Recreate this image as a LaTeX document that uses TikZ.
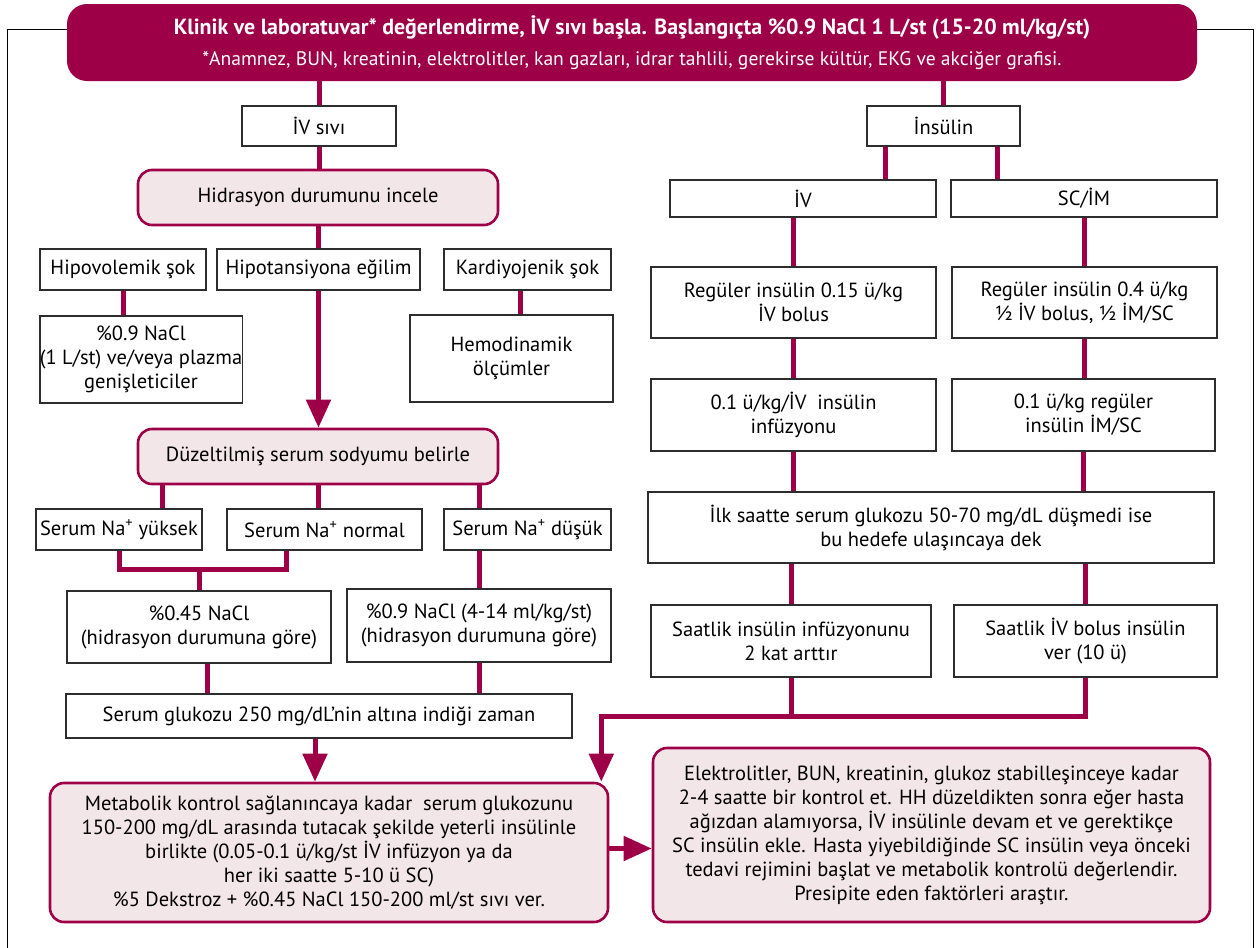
\documentclass[tikz,border=0pt]{standalone}
\usepackage{fontspec}
\setmainfont{PT Sans}
\definecolor{dkaplum}{RGB}{158,0,72}
\definecolor{dkarose}{RGB}{243,230,233}
\definecolor{boxline}{RGB}{45,45,45}
\usetikzlibrary{arrows.meta,positioning}

\begin{document}
\begin{tikzpicture}[x=1pt, y=-1pt,
    every node/.style={font=\fontsize{20.5}{24}\selectfont, align=center, inner sep=2pt},
    headbox/.style={fill=dkaplum, rounded corners=20pt, text=white,
                    font=\fontsize{19.6}{31}\selectfont},
    plainbox/.style={draw=boxline, line width=1.4pt, fill=white},
    rosebox/.style={draw=dkaplum, line width=2.6pt, fill=dkarose, rounded corners=14pt},
    link/.style={draw=dkaplum, line width=5pt},
    linkarrow/.style={link, -{Triangle[length=28pt, width=24pt]}},
    frameline/.style={draw=black, line width=1pt}]
    \useasboundingbox (0,0) rectangle (1259,948);

    % open frame behind the title bar
    \draw[frameline] (7,948) |- (1253,29) -- (1253,948);

    \node[headbox, minimum width=1130, minimum height=77] (header) at (632,42.5)
        {{\bfseries\fontsize{21.9}{31}\selectfont Klinik ve laboratuvar* değerlendirme, İV sıvı başla. Başlangıçta \%0.9 NaCl 1 L/st (15-20 ml/kg/st)}\\
         *Anamnez, BUN, kreatinin, elektrolitler, kan gazları, idrar tahlili, gerekirse kültür, EKG ve akciğer grafisi.};

    % fluid branch
    \node[plainbox, minimum width=154, minimum height=40] (ivsivi) at (319,126) {İV sıvı};
    \node[rosebox, minimum width=360, minimum height=55] (hydration) at (318,197.5) {Hidrasyon durumunu incele};
    \node[plainbox, minimum width=166, minimum height=41] (hypovol) at (123,269.5) {Hipovolemik şok};
    \node[plainbox, minimum width=203, minimum height=41] (hypotens) at (318.5,269.5) {Hipotansiyona eğilim};
    \node[plainbox, minimum width=167, minimum height=41] (cardio) at (527.5,269.5) {Kardiyojenik şok};
    \node[plainbox, minimum width=202, minimum height=87, inner xsep=0pt] (salinefast) at (141,359.5)
        {\%0.9 NaCl\\(1 L/st) ve/veya plazma\\genişleticiler};
    \node[plainbox, minimum width=203, minimum height=87] (hemodyn) at (511.5,358.5) {Hemodinamik\\ölçümler};
    \node[rosebox, minimum width=360, minimum height=55] (sodium) at (318,456.5) {Düzeltilmiş serum sodyumu belirle};
    \node[plainbox, minimum width=166, minimum height=41, inner xsep=0pt] (nahigh) at (119,529.5) {Serum Na\textsuperscript{+} yüksek};
    \node[plainbox, minimum width=195, minimum height=41] (nanormal) at (324.5,529.5) {Serum Na\textsuperscript{+} normal};
    \node[plainbox, minimum width=167, minimum height=41, inner xsep=0pt] (nalow) at (527.5,529.5) {Serum Na\textsuperscript{+} düşük};
    \node[plainbox, minimum width=264, minimum height=72] (halfsaline) at (199,627)
        {\%0.45 NaCl\\(hidrasyon durumuna göre)};
    \node[plainbox, minimum width=264, minimum height=73] (fullsaline) at (479,625.5)
        {\%0.9 NaCl (4-14 ml/kg/st)\\(hidrasyon durumuna göre)};
    \node[plainbox, minimum width=506, minimum height=44] (glucose) at (319,716)
        {Serum glukozu 250 mg/dL’nin altına indiği zaman};
    \node[rosebox, minimum width=558, minimum height=139] (metabolic) at (329,852.5)
        {Metabolik kontrol sağlanıncaya kadar\ \ serum glukozunu\\
         150-200 mg/dL arasında tutacak şekilde yeterli insülinle\\
         birlikte (0.05-0.1 ü/kg/st İV infüzyon ya da\\
         her iki saatte 5-10 ü SC)\\
         \%5 Dekstroz + \%0.45 NaCl 150-200 ml/st sıvı ver.};
    \node[rosebox, minimum width=557, minimum height=174] (followup) at (931.5,835)
        {Elektrolitler, BUN, kreatinin, glukoz stabilleşinceye kadar\\
         2-4 saatte bir kontrol et. HH düzeldikten sonra eğer hasta\\
         ağızdan alamıyorsa, İV insülinle devam et ve gerektikçe\\
         SC insülin ekle. Hasta yiyebildiğinde SC insülin veya önceki\\
         tedavi rejimini başlat ve metabolik kontrolü değerlendir.\\
         Presipite eden faktörleri araştır.};

    % insulin branch
    \node[plainbox, minimum width=153, minimum height=40] (insulin) at (943.5,126) {İnsülin};
    \node[plainbox, minimum width=266, minimum height=37] (ivroute) at (803,198.5) {İV};
    \node[plainbox, minimum width=266, minimum height=37] (scroute) at (1084,198.5) {SC/İM};
    \node[plainbox, minimum width=285, minimum height=71] (ivbolus) at (793.5,302.5)
        {Regüler insülin 0.15 ü/kg\\İV bolus};
    \node[plainbox, minimum width=265, minimum height=71] (scbolus) at (1084.5,302.5)
        {Regüler insülin 0.4 ü/kg\\½ İV bolus, ½ İM/SC};
    \node[plainbox, minimum width=285, minimum height=72] (ivinfusion) at (793.5,415)
        {0.1 ü/kg/İV\ \ insülin\\infüzyonu};
    \node[plainbox, minimum width=263, minimum height=72] (scdose) at (1083.5,415)
        {0.1 ü/kg regüler\\insülin İM/SC};
    \node[plainbox, minimum width=566, minimum height=71] (firsthour) at (931,527.5)
        {İlk saatte serum glukozu 50-70 mg/dL düşmedi ise\\bu hedefe ulaşıncaya dek};
    \node[plainbox, minimum width=280, minimum height=72] (doubleinf) at (791,641)
        {Saatlik insülin infüzyonunu\\2 kat arttır};
    \node[plainbox, minimum width=263, minimum height=72] (hourlybolus) at (1085.5,641)
        {Saatlik İV bolus insülin\\ver (10 ü)};

    % connectors, fluid side
    \draw[link] (ivsivi.north |- header.south) -- (ivsivi.north);
    \draw[link] (ivsivi.south) -- (ivsivi.south |- hydration.north);
    \draw[link] (hypotens.north |- hydration.south) -- (hypotens.north);
    \draw[link] (hypovol.south) -- (hypovol.south |- salinefast.north);
    \draw[link] ([xshift=-7pt]cardio.south) -- ([xshift=-7pt]cardio.south |- hemodyn.north);
    \draw[linkarrow] (hypotens.south) -- (hypotens.south |- sodium.north);
    \draw[link] ([xshift=43pt]nahigh.north |- sodium.south) -- ([xshift=43pt]nahigh.north);
    \draw[link] (sodium.south) -- (sodium.south |- nanormal.north);
    \draw[link] (fullsaline.north |- sodium.south) -- (fullsaline.north |- nalow.north);
    \coordinate (naknee) at ([yshift=-19pt]nahigh.south);
    \draw[link] (nahigh.south) -- (naknee) -| ([xshift=-38pt]nanormal.south);
    \draw[link] (halfsaline.north) -- (halfsaline.north |- naknee);
    \draw[link] (nalow.south -| fullsaline.north) -- (fullsaline.north);
    \draw[link] ([xshift=8pt]halfsaline.south) -- ([xshift=8pt]halfsaline.south |- glucose.north);
    \draw[link] (fullsaline.south) -- (fullsaline.south |- glucose.north);
    \draw[linkarrow] ([xshift=-4pt]glucose.south) -- ([xshift=-4pt]glucose.south |- metabolic.north);
    \draw[linkarrow] ([yshift=4pt]metabolic.east) -- ([yshift=4pt]metabolic.east -| followup.west);

    % connectors, insulin side
    \draw[link] (insulin.north |- header.south) -- (insulin.north);
    \draw[link] ([xshift=19pt]insulin.south west) -- ([xshift=19pt]insulin.south west |- ivroute.north);
    \draw[link] ([xshift=-23pt]insulin.south east) -- ([xshift=-23pt]insulin.south east |- scroute.north);
    \draw[link] (ivbolus.north |- ivroute.south) -- (ivbolus.north);
    \draw[link] (scroute.south) -- (scroute.south |- scbolus.north);
    \draw[link] (ivbolus.south) -- (ivinfusion.north);
    \draw[link] (scbolus.south) -- (scbolus.south |- scdose.north);
    \draw[link] (ivinfusion.south) -- (ivinfusion.south |- firsthour.north);
    \draw[link] (scdose.south) -- (scdose.south |- firsthour.north);
    \draw[link] (doubleinf.north |- firsthour.south) -- (doubleinf.north);
    \draw[link] (hourlybolus.north |- firsthour.south) -- (hourlybolus.north);
    \coordinate (rejoin) at ([yshift=-39pt]hourlybolus.south);
    \draw[linkarrow] (hourlybolus.south) -- (rejoin) -| ([xshift=-8pt]metabolic.north east);
    \draw[link] (doubleinf.south) -- (doubleinf.south |- rejoin);
\end{tikzpicture}
\end{document}
